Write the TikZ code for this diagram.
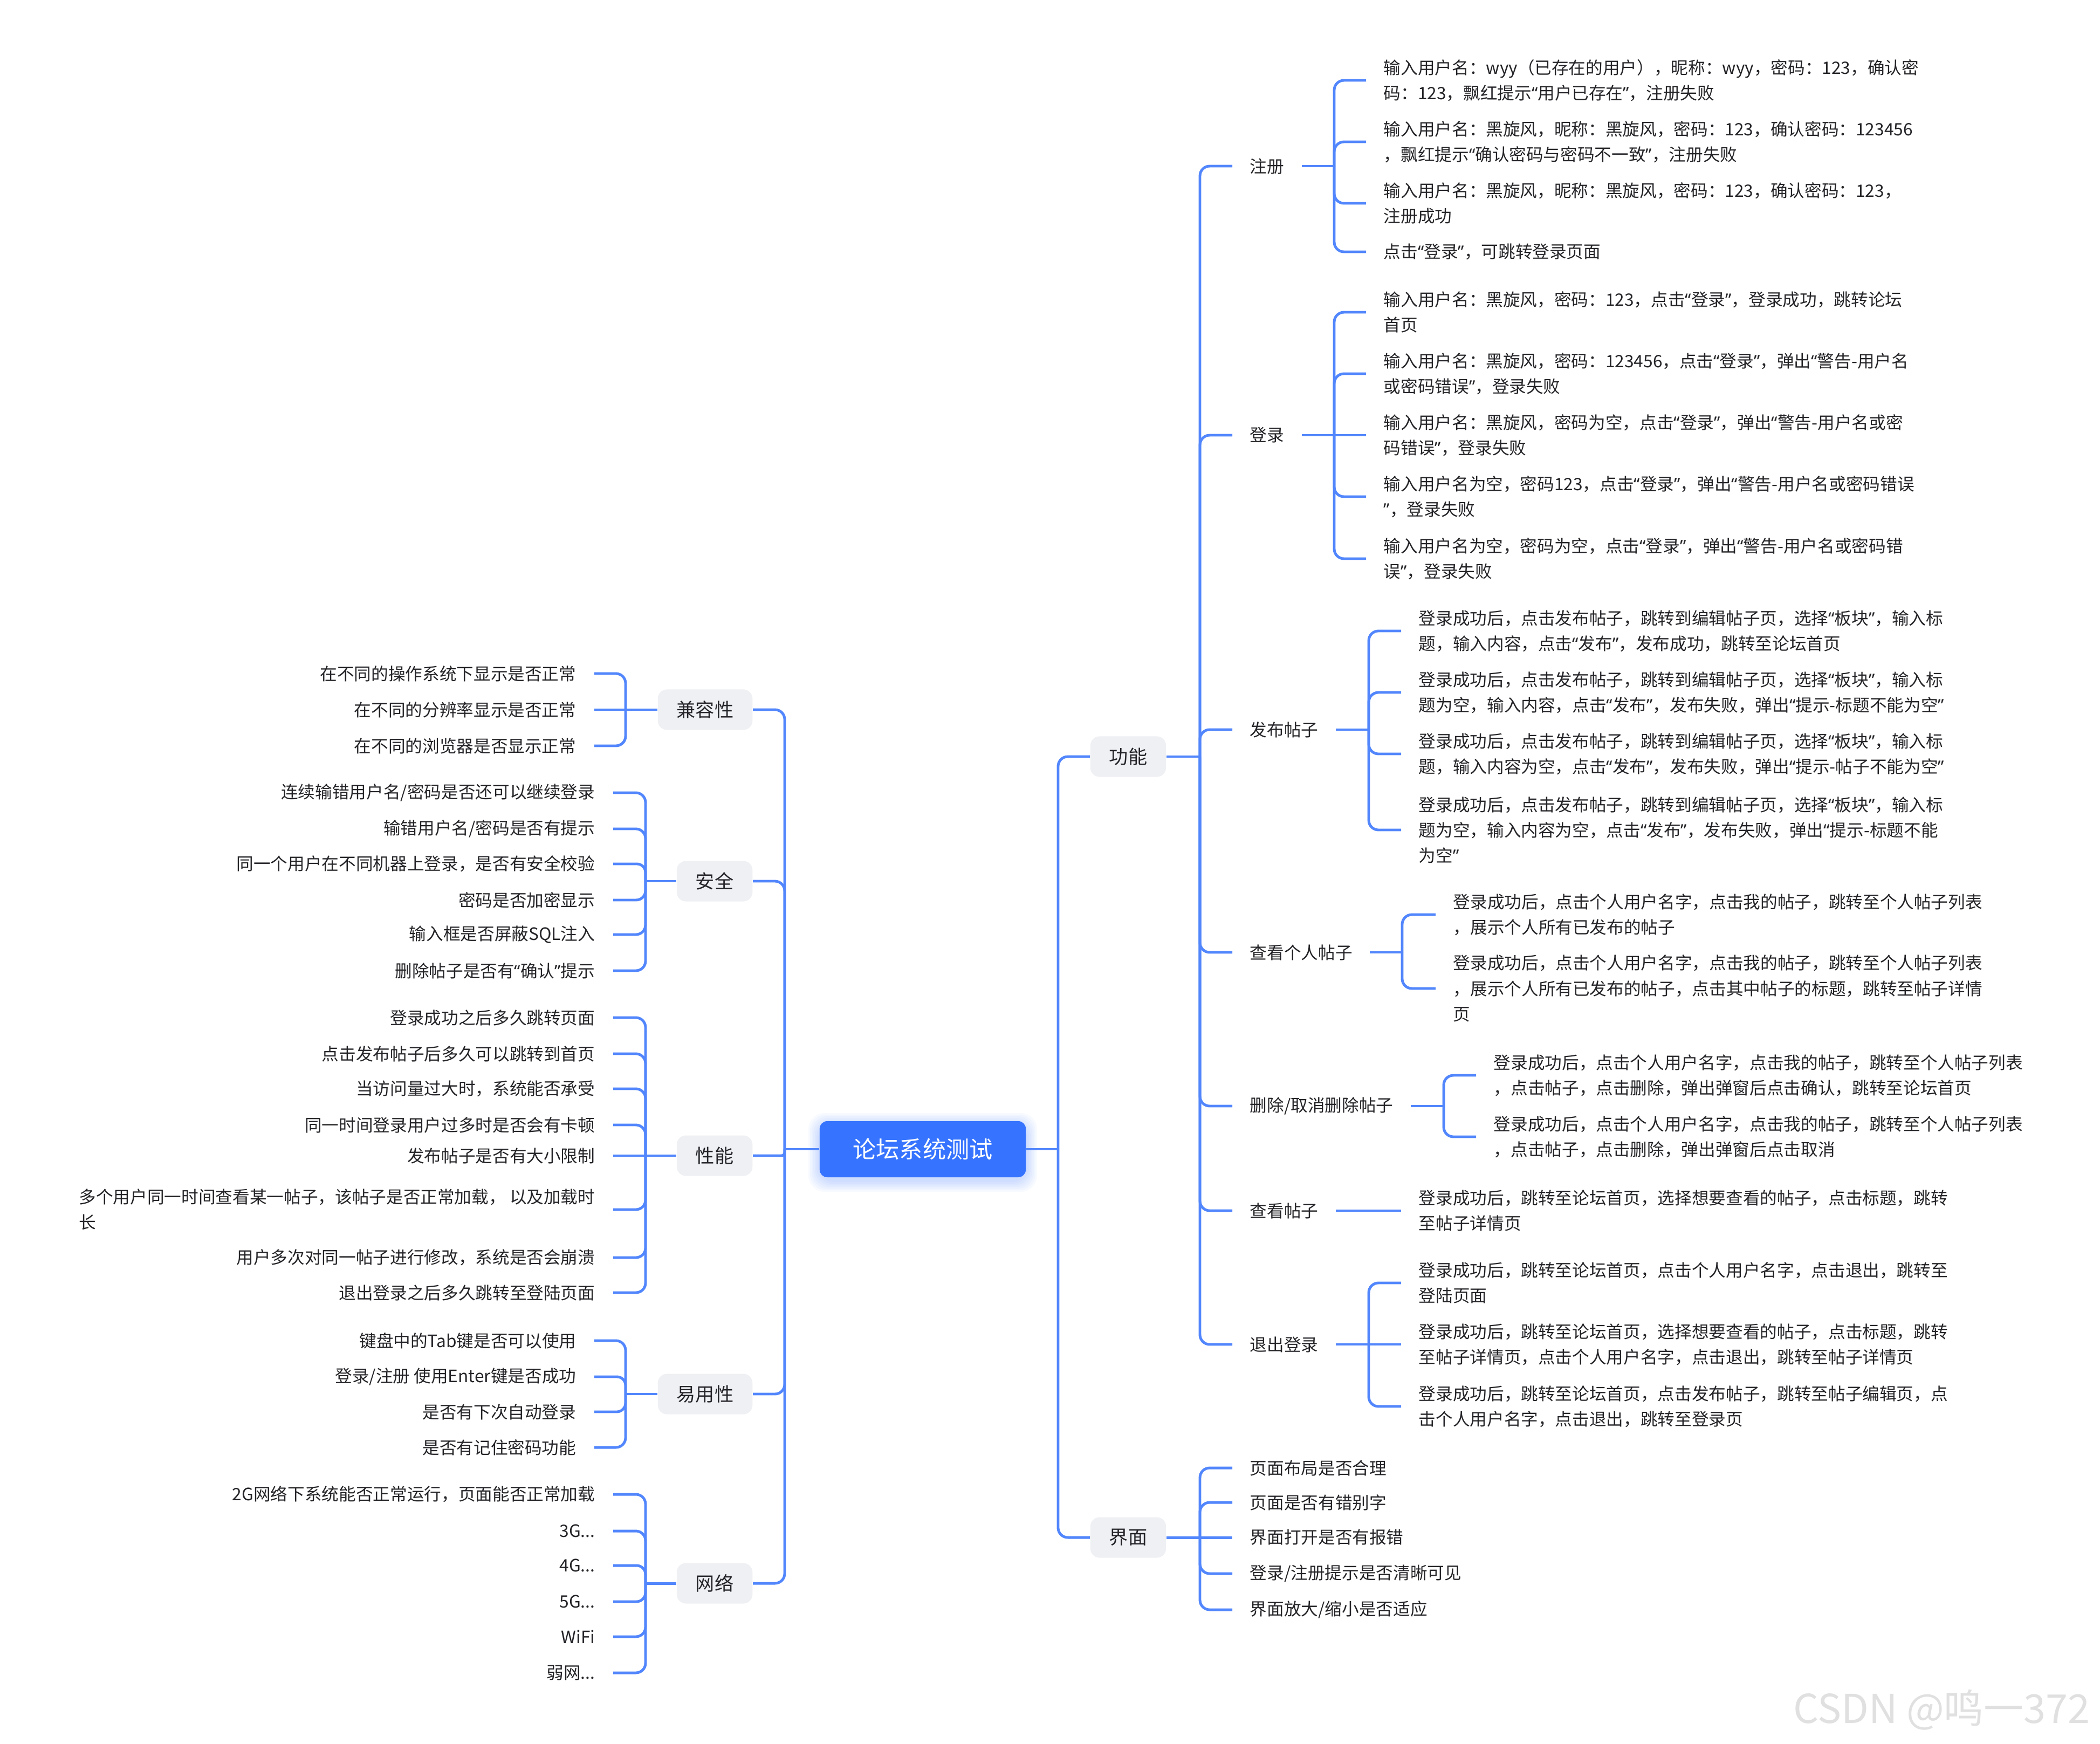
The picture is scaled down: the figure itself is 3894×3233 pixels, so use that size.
\documentclass[tikz,border=0pt]{standalone}
\usepackage{fontspec}
\setmainfont{Noto Sans CJK SC}
\newfontfamily\quotefont{Noto Sans}
\newcommand\oq{{\quotefont “}}
\newcommand\cq{{\quotefont ”}}

\definecolor{lineblue}{RGB}{82,134,252}
\definecolor{rootblue}{RGB}{54,116,255}
\definecolor{topicgray}{RGB}{239,240,243}
\definecolor{inkgray}{RGB}{36,36,40}

\tikzset{
  branch/.style={draw=lineblue,line width=1.4pt},
  trunk/.style={draw=lineblue,line width=1pt},
  topic/.style={fill=topicgray,rounded corners=0.17cm,minimum height=0.75cm,inner xsep=0.35cm,
    text=inkgray,font=\fontsize{10}{12}\selectfont},
  sub/.style={anchor=west,inner xsep=0.32cm,inner ysep=0pt,text=inkgray},
  leafr/.style={anchor=west,align=left,inner xsep=0.32cm,inner ysep=0pt,text=inkgray},
  leafl/.style={anchor=east,align=left,inner xsep=0.33cm,inner ysep=0pt,text=inkgray}
}

\begin{document}
\begin{tikzpicture}[x=0.01cm,y=-0.01cm,font=\fontsize{9}{13.4}\selectfont]
\path[use as bounding box,fill=white] (0,0) rectangle (3894,3233);

% root
\foreach \g in {3,6,...,21}
  \fill[rootblue,opacity=0.035,rounded corners=0.3cm] (1520-\g,2079-\g+6) rectangle (1902+\g,2183+\g+6);
\node[fill=rootblue,text=white,rounded corners=0.14cm,minimum width=3.82cm,minimum height=1.04cm,
  font=\fontsize{12.3}{14}\selectfont] (root) at (1711,2131) {论坛系统测试};
\coordinate (jl) at (1455,2131);
\coordinate (jr) at (1962,2131);
\draw[trunk] (root.west) -- (jl);
\draw[trunk] (root.east) -- (jr);

% right: 功能 / 界面
\node[topic] (func) at (2092,1403) {功能};
\node[topic] (ui) at (2092,2851) {界面};
\draw[branch,rounded corners=0.18cm] (jr) |- (func.west);
\draw[branch,rounded corners=0.18cm] (jr) |- (ui.west);
\coordinate (jf) at (2225,1403);
\coordinate (ju) at (2225,2851);
\draw[branch] (func.east) -- (jf);
\draw[branch] (ui.east) -- (ju);

\foreach \n/\y/\txt in {reg/308/注册,login/807/登录,post/1353/发布帖子,mine/1766/查看个人帖子,
  del/2051/{删除/取消删除帖子},view/2245/查看帖子,quit/2493/退出登录}{
  \node[sub] (\n) at (2285,\y) {\txt};
  \pgfmathsetmacro\rr{min(18,abs(\y-1403)/2)}
  \draw[branch,rounded corners=\rr*0.01cm] (jf) |- (\n.west);
}

% 注册
\coordinate (jreg) at (2474,308);
\draw[branch] (reg.east) -- (jreg);
\foreach \y/\txt [count=\idx] in {
  149/{输入用户名：wyy（已存在的用户），昵称：wyy，密码：123，确认密\\码：123，飘红提示\oq 用户已存在\cq ，注册失败},
  263/{输入用户名：黑旋风，昵称：黑旋风，密码：123，确认密码：123456\\，飘红提示\oq 确认密码与密码不一致\cq ，注册失败},
  377/{输入用户名：黑旋风，昵称：黑旋风，密码：123，确认密码：123，\\注册成功},
  467/{点击\oq 登录\cq ，可跳转登录页面}}{
  \node[leafr] (reg\idx) at (2533,\y) {\txt};
  \pgfmathsetmacro\rr{min(18,abs(\y-308)/2)}
  \draw[branch,rounded corners=\rr*0.01cm] (jreg) |- (reg\idx.west);
}

% 登录
\coordinate (jlogin) at (2474,807);
\draw[branch] (login.east) -- (jlogin);
\foreach \y/\txt [count=\idx] in {
  579/{输入用户名：黑旋风，密码：123，点击\oq 登录\cq ，登录成功，跳转论坛\\首页},
  693/{输入用户名：黑旋风，密码：123456，点击\oq 登录\cq ，弹出\oq 警告-用户名\\或密码错误\cq ，登录失败},
  807/{输入用户名：黑旋风，密码为空，点击\oq 登录\cq ，弹出\oq 警告-用户名或密\\码错误\cq ，登录失败},
  921/{输入用户名为空，密码123，点击\oq 登录\cq ，弹出\oq 警告-用户名或密码错误\\\cq ，登录失败},
  1036/{输入用户名为空，密码为空，点击\oq 登录\cq ，弹出\oq 警告-用户名或密码错\\误\cq ，登录失败}}{
  \node[leafr] (login\idx) at (2533,\y) {\txt};
  \pgfmathsetmacro\rr{min(18,abs(\y-807)/2)}
  \draw[branch,rounded corners=\rr*0.01cm] (jlogin) |- (login\idx.west);
}

% 发布帖子
\coordinate (jpost) at (2538,1353);
\draw[branch] (post.east) -- (jpost);
\foreach \y/\txt [count=\idx] in {
  1170/{登录成功后，点击发布帖子，跳转到编辑帖子页，选择\oq 板块\cq ，输入标\\题，输入内容，点击\oq 发布\cq ，发布成功，跳转至论坛首页},
  1284/{登录成功后，点击发布帖子，跳转到编辑帖子页，选择\oq 板块\cq ，输入标\\题为空，输入内容，点击\oq 发布\cq ，发布失败，弹出\oq 提示-标题不能为空\cq},
  1398/{登录成功后，点击发布帖子，跳转到编辑帖子页，选择\oq 板块\cq ，输入标\\题，输入内容为空，点击\oq 发布\cq ，发布失败，弹出\oq 提示-帖子不能为空\cq},
  1539/{登录成功后，点击发布帖子，跳转到编辑帖子页，选择\oq 板块\cq ，输入标\\题为空，输入内容为空，点击\oq 发布\cq ，发布失败，弹出\oq 提示-标题不能\\为空\cq}}{
  \node[leafr] (post\idx) at (2598,\y) {\txt};
  \pgfmathsetmacro\rr{min(18,abs(\y-1353)/2)}
  \draw[branch,rounded corners=\rr*0.01cm] (jpost) |- (post\idx.west);
}

% 查看个人帖子
\coordinate (jmine) at (2600,1766);
\draw[branch] (mine.east) -- (jmine);
\foreach \y/\txt [count=\idx] in {
  1696/{登录成功后，点击个人用户名字，点击我的帖子，跳转至个人帖子列表\\，展示个人所有已发布的帖子},
  1833/{登录成功后，点击个人用户名字，点击我的帖子，跳转至个人帖子列表\\，展示个人所有已发布的帖子，点击其中帖子的标题，跳转至帖子详情\\页}}{
  \node[leafr] (mine\idx) at (2662,\y) {\txt};
  \pgfmathsetmacro\rr{min(18,abs(\y-1766)/2)}
  \draw[branch,rounded corners=\rr*0.01cm] (jmine) |- (mine\idx.west);
}

% 删除/取消删除帖子
\coordinate (jdel) at (2677,2051);
\draw[branch] (del.east) -- (jdel);
\foreach \y/\txt [count=\idx] in {
  1994/{登录成功后，点击个人用户名字，点击我的帖子，跳转至个人帖子列表\\，点击帖子，点击删除，弹出弹窗后点击确认，跳转至论坛首页},
  2108/{登录成功后，点击个人用户名字，点击我的帖子，跳转至个人帖子列表\\，点击帖子，点击删除，弹出弹窗后点击取消}}{
  \node[leafr] (del\idx) at (2737,\y) {\txt};
  \pgfmathsetmacro\rr{min(18,abs(\y-2051)/2)}
  \draw[branch,rounded corners=\rr*0.01cm] (jdel) |- (del\idx.west);
}

% 查看帖子
\node[leafr] (view1) at (2598,2245) {登录成功后，跳转至论坛首页，选择想要查看的帖子，点击标题，跳转\\至帖子详情页};
\draw[branch] (view.east) -- (view1.west);

% 退出登录
\coordinate (jquit) at (2538,2493);
\draw[branch] (quit.east) -- (jquit);
\foreach \y/\txt [count=\idx] in {
  2379/{登录成功后，跳转至论坛首页，点击个人用户名字，点击退出，跳转至\\登陆页面},
  2493/{登录成功后，跳转至论坛首页，选择想要查看的帖子，点击标题，跳转\\至帖子详情页，点击个人用户名字，点击退出，跳转至帖子详情页},
  2608/{登录成功后，跳转至论坛首页，点击发布帖子，跳转至帖子编辑页，点\\击个人用户名字，点击退出，跳转至登录页}}{
  \node[leafr] (quit\idx) at (2598,\y) {\txt};
  \pgfmathsetmacro\rr{min(18,abs(\y-2493)/2)}
  \draw[branch,rounded corners=\rr*0.01cm] (jquit) |- (quit\idx.west);
}

% 界面
\foreach \y/\txt [count=\idx] in {2722/页面布局是否合理,2786/页面是否有错别字,2851/界面打开是否有报错,
  2918/{登录/注册提示是否清晰可见},2985/{界面放大/缩小是否适应}}{
  \node[sub] (ui\idx) at (2285,\y) {\txt};
  \pgfmathsetmacro\rr{min(18,abs(\y-2851)/2)}
  \draw[branch,rounded corners=\rr*0.01cm] (ju) |- (ui\idx.west);
}

% left side
\foreach \n/\y/\txt in {compat/1316/兼容性,safe/1634/安全,perf/2143/性能,ease/2585/易用性,net/2936/网络}{
  \node[topic,anchor=east] (\n) at (1396,\y) {\txt};
  \pgfmathsetmacro\rr{min(18,abs(\y-2131)/2)}
  \draw[branch,rounded corners=\rr*0.01cm] (jl) |- (\n.east);
}

% 兼容性
\coordinate (jcompat) at (1160,1316);
\draw[branch] (compat.west) -- (jcompat);
\foreach \y/\txt [count=\idx] in {1249/在不同的操作系统下显示是否正常,1316/在不同的分辨率显示是否正常,
  1383/在不同的浏览器是否显示正常}{
  \node[leafl] (compat\idx) at (1102,\y) {\txt};
  \pgfmathsetmacro\rr{min(18,abs(\y-1316)/2)}
  \draw[branch,rounded corners=\rr*0.01cm] (jcompat) |- (compat\idx.east);
}

% 安全
\coordinate (jsafe) at (1197,1634);
\draw[branch] (safe.west) -- (jsafe);
\foreach \y/\txt [count=\idx] in {1470/{连续输错用户名/密码是否还可以继续登录},1537/{输错用户名/密码是否有提示},
  1602/同一个用户在不同机器上登录，是否有安全校验,1669/密码是否加密显示,1733/输入框是否屏蔽SQL注入,
  1800/{删除帖子是否有\oq 确认\cq 提示}}{
  \node[leafl] (safe\idx) at (1137,\y) {\txt};
  \pgfmathsetmacro\rr{min(18,abs(\y-1634)/2)}
  \draw[branch,rounded corners=\rr*0.01cm] (jsafe) |- (safe\idx.east);
}

% 性能
\coordinate (jperf) at (1197,2143);
\draw[branch] (perf.west) -- (jperf);
\foreach \y/\txt [count=\idx] in {1887/登录成功之后多久跳转页面,1954/点击发布帖子后多久可以跳转到首页,
  2019/当访问量过大时，系统能否承受,2086/同一时间登录用户过多时是否会有卡顿,2143/发布帖子是否有大小限制,
  2243/{多个用户同一时间查看某一帖子，该帖子是否正常加载， 以及加载时\\长},
  2332/用户多次对同一帖子进行修改，系统是否会崩溃,2397/退出登录之后多久跳转至登陆页面}{
  \node[leafl] (perf\idx) at (1137,\y) {\txt};
  \pgfmathsetmacro\rr{min(18,abs(\y-2143)/2)}
  \draw[branch,rounded corners=\rr*0.01cm] (jperf) |- (perf\idx.east);
}

% 易用性
\coordinate (jease) at (1160,2585);
\draw[branch] (ease.west) -- (jease);
\foreach \y/\txt [count=\idx] in {2486/键盘中的Tab键是否可以使用,2553/{登录/注册 使用Enter键是否成功},
  2618/是否有下次自动登录,2684/是否有记住密码功能}{
  \node[leafl] (ease\idx) at (1102,\y) {\txt};
  \pgfmathsetmacro\rr{min(18,abs(\y-2585)/2)}
  \draw[branch,rounded corners=\rr*0.01cm] (jease) |- (ease\idx.east);
}

% 网络
\coordinate (jnet) at (1197,2936);
\draw[branch] (net.west) -- (jnet);
\foreach \y/\txt [count=\idx] in {2771/2G网络下系统能否正常运行，页面能否正常加载,2839/{3G...},2903/{4G...},
  2970/{5G...},3035/WiFi,3102/{弱网...}}{
  \node[leafl] (net\idx) at (1137,\y) {\txt};
  \pgfmathsetmacro\rr{min(18,abs(\y-2936)/2)}
  \draw[branch,rounded corners=\rr*0.01cm] (jnet) |- (net\idx.east);
}

\node[anchor=east,text=black!12,font=\fontsize{21}{21}\selectfont] (mark) at (3888,3171) {CSDN @鸣一372};
\end{tikzpicture}
\end{document}
